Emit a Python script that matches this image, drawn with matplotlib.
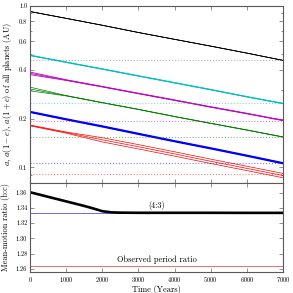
import numpy as np
import matplotlib
matplotlib.use('Agg')
import matplotlib.pyplot as plt
from matplotlib.ticker import LogLocator, NullFormatter, FixedLocator, MultipleLocator

plt.rcParams['font.family'] = 'serif'
plt.rcParams['font.serif'] = ['cmr10', 'DejaVu Serif']
plt.rcParams['mathtext.fontset'] = 'cm'
plt.rcParams['axes.unicode_minus'] = False
plt.rcParams['axes.formatter.use_mathtext'] = True

# time grid (years)
time = [0, 1000, 2000, 3000, 4000, 5000, 6000, 7000]

# semi-major axes (AU) of each planet
a_black = [0.918, 0.833, 0.755, 0.681, 0.618, 0.561, 0.508, 0.458]
a_cyan = [0.492, 0.446, 0.405, 0.367, 0.333, 0.302, 0.273, 0.248]
a_magenta = [0.381, 0.346, 0.315, 0.286, 0.260, 0.236, 0.215, 0.195]
a_green = [0.305, 0.277, 0.251, 0.228, 0.206, 0.187, 0.170, 0.154]
a_blue = [0.220, 0.198, 0.179, 0.161, 0.145, 0.131, 0.118, 0.106]
a_red = [0.1815, 0.164, 0.148, 0.134, 0.121, 0.109, 0.0985, 0.089]

# eccentricities
e_black = [0.001, 0.001, 0.001, 0.001, 0.001, 0.001, 0.001, 0.001]
e_cyan = [0.004, 0.004, 0.004, 0.004, 0.004, 0.004, 0.004, 0.004]
e_magenta = [0.018, 0.005, 0.004, 0.004, 0.004, 0.004, 0.004, 0.004]
e_green = [0.026, 0.003, 0.002, 0.002, 0.002, 0.002, 0.002, 0.002]
e_blue = [0.007, 0.007, 0.007, 0.007, 0.007, 0.007, 0.007, 0.007]
e_red = [0.006, 0.008, 0.03, 0.031, 0.031, 0.031, 0.031, 0.031]

# observed semi-major axes (dotted lines)
a_obs = [0.46, 0.248, 0.193, 0.154, 0.1063, 0.0906]

planet_colors = ['k', 'c', 'm', 'g', 'b', 'r']
planet_lw = [0.5, 0.6, 0.6, 0.5, 0.9, 0.5]

# mean-motion ratio b:c
t_ratio = [0, 250, 500, 750, 1000, 1250, 1500, 1750, 2000, 2250, 2500,
           3000, 4000, 5000, 6000, 7000]
ratio_bc = [1.3605, 1.3575, 1.3545, 1.3515, 1.3485, 1.3455, 1.3425, 1.3392,
            1.3356, 1.3341, 1.3337, 1.3335, 1.3335, 1.3335, 1.3334, 1.3334]
resonance = 4.0 / 3.0
observed_ratio = 1.2643

fig = plt.figure(figsize=(2.93, 2.93), dpi=100)
ax1 = fig.add_axes([0.1024, 0.3754, 0.8635, 0.6058])
ax2 = fig.add_axes([0.1024, 0.0717, 0.8635, 0.3037], sharex=ax1)

a_all = [a_black, a_cyan, a_magenta, a_green, a_blue, a_red]
e_all = [e_black, e_cyan, e_magenta, e_green, e_blue, e_red]
for a, e, c, lw in zip(a_all, e_all, planet_colors, planet_lw):
    a = np.array(a)
    e = np.array(e)
    ax1.plot(time, a, color=c, lw=lw)
    ax1.plot(time, a * (1 - e), color=c, lw=lw)
    ax1.plot(time, a * (1 + e), color=c, lw=lw)

for ao, c in zip(a_obs, planet_colors):
    col = '0.4' if c == 'k' else c
    ax1.axhline(ao, color=col, ls=':', lw=0.8, alpha=0.5)

ax1.set_yscale('log')
ax1.set_ylim(0.08, 1.0)
ax1.set_xlim(0, 7000)
ax1.yaxis.set_major_locator(FixedLocator([0.1, 0.2, 0.4, 0.6, 0.8, 1.0]))
ax1.yaxis.set_major_formatter(plt.FixedFormatter(['0.1', '0.2', '0.4', '0.6', '0.8', '1.0']))
ax1.yaxis.set_minor_locator(LogLocator(subs=np.arange(2, 10)))
ax1.yaxis.set_minor_formatter(NullFormatter())
ax1.set_ylabel(r'$a$, $a(1-e)$, $a(1+e)$ of all planets (AU)', fontsize=6)
ax1.yaxis.set_label_coords(-0.062, 0.5)
plt.setp(ax1.get_xticklabels(), visible=False)

ax2.axhline(resonance, color='b', lw=0.7, alpha=0.6)
ax2.axhline(observed_ratio, color='r', lw=0.7, alpha=0.6)
ax2.plot(t_ratio, ratio_bc, color='k', lw=1.9)
ax2.text(3500, 1.3375, '(4:3)', ha='center', va='bottom', fontsize=6)
ax2.text(3500, 1.2662, 'Observed period ratio', ha='center', va='bottom', fontsize=6)
ax2.set_ylim(1.2558, 1.3726)
ax2.yaxis.set_major_locator(MultipleLocator(0.02))
ax2.yaxis.set_major_formatter(plt.FormatStrFormatter('%.2f'))
ax2.xaxis.set_major_locator(MultipleLocator(1000))
ax2.set_xlim(0, 7000)
ax2.set_xlabel('Time (Years)', fontsize=6, labelpad=1)
ax2.set_ylabel('Mean-motion ratio (b:c)', fontsize=6)
ax2.yaxis.set_label_coords(-0.078, 0.5)

for ax in (ax1, ax2):
    ax.tick_params(which='both', direction='in', top=True, right=True,
                   labelsize=4.6, pad=2, color='0.4')
    ax.tick_params(which='major', length=3, width=0.5)
    ax.tick_params(which='minor', length=1.5, width=0.5)
    for s in ax.spines.values():
        s.set_color('0.35')
        s.set_linewidth(0.8)

fig.savefig('out.png', dpi=100)
